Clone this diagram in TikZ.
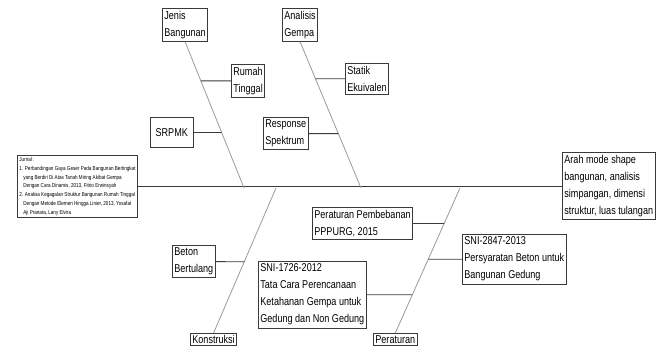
\documentclass[tikz,border=0pt]{standalone}
\usepackage{fontspec}
\setmainfont[FakeStretch=0.8]{Liberation Sans}
\usetikzlibrary{calc}
\definecolor{garis}{HTML}{3A3A3A}
\definecolor{tulang}{HTML}{9A9A9A}
\def\kecil{\fontsize{8.5}{12.75}\selectfont}
\def\mini{\fontsize{4.3}{6.6}\selectfont}

\begin{document}
\begin{tikzpicture}[x=0.75pt, y=-0.75pt,
		kotak/.style={draw=garis, line width=0.6pt, fill=white, align=left, anchor=north west,
			inner xsep=1.5pt, inner ysep=2pt, font=\kecil},
		tulangbesar/.style={draw=tulang, line width=0.6pt},
		cabang/.style={draw=garis, line width=0.6pt}]
				\useasboundingbox (0, 0) rectangle (667, 350);
				
				\node[kotak, font=\mini, inner ysep=1.5pt] (jurnal) at (17, 155) {Jurnal :\\
					1. Perbandingan Gaya Geser Pada Bangunan Bertingkat\\
					\hspace*{3pt}yang Berdiri Di Atas Tanah Miring Akibat Gempa\\
					\hspace*{3pt}Dengan Cara Dinamis, 2013, Fitrio Erwinsyah\\
					2. Analisa Kegagalan Struktur Bangunan Rumah Tinggal\\
					\hspace*{3pt}Dengan Metode Elemen Hingga Linier, 2013, Yosafat\\
					\hspace*{3pt}Aji Pranata, Lany Elvira};
				\node[kotak] (arah) at (562, 152) {Arah mode shape\\bangunan, analisis\\simpangan, dimensi\\struktur, luas tulangan};
				
				\node[kotak] (jenis) at (162, 8) {Jenis\\Bangunan};
				\node[kotak] (rumah) at (231, 64) {Rumah\\Tinggal};
				\node[kotak, align=center, minimum width=32pt, minimum height=22.5pt] (srpmk) at (150, 117) {SRPMK};
				
				\node[kotak] (analisis) at (282, 8) {Analisis\\Gempa};
				\node[kotak] (statik) at (345, 63) {Statik\\Ekuivalen};
				\node[kotak] (respons) at (263, 117) {Response\\Spektrum};
				
				\node[kotak, inner ysep=1.5pt] (konstruksi) at (190, 333) {Konstruksi};
				\node[kotak] (beton) at (172, 245) {Beton\\Bertulang};
				
				\node[kotak, inner ysep=1.5pt] (peraturan) at (373, 333) {Peraturan};
				\node[kotak] (pembebanan) at (312, 207) {Peraturan Pembebanan\\PPPURG, 2015};
				\node[kotak] (sni1726) at (258, 261) {SNI-1726-2012\\Tata Cara Perencanaan\\Ketahanan Gempa untuk\\Gedung dan Non Gedung};
				\node[kotak] (sni2847) at (462, 234) {SNI-2847-2013\\Persyaratan Beton untuk\\Bangunan Gedung};
				
				\coordinate (sj) at (244, 188);
				\coordinate (sa) at (361, 188);
				\coordinate (sk) at (276, 188);
				\coordinate (sp) at (460, 188);
				
				% tulang utama
				\draw[cabang] (jurnal.east) -- (jurnal.east -| arah.west);
				
				\draw[tulangbesar] (jenis.south) -- (sj);
				\draw[tulangbesar] (analisis.south) -- (sa);
				\draw[tulangbesar] (konstruksi.north) -- (sk);
				\draw[tulangbesar] (peraturan.north) -- (sp);
				
				% cabang
				\draw[cabang] (rumah.west) -- (intersection of jenis.south--sj and rumah.west--rumah.east);
				\draw[cabang] (srpmk.east) -- (intersection of jenis.south--sj and srpmk.west--srpmk.east);
				\draw[cabang] (statik.west) -- (intersection of analisis.south--sa and statik.west--statik.east);
				\draw[cabang] (respons.east) -- (intersection of analisis.south--sa and respons.west--respons.east);
				\draw[cabang] (beton.east) -- (intersection of konstruksi.north--sk and beton.west--beton.east);
				\draw[cabang] (pembebanan.east) -- (intersection of peraturan.north--sp and pembebanan.west--pembebanan.east);
				\draw[cabang] (sni1726.east) -- (intersection of peraturan.north--sp and sni1726.west--sni1726.east);
				\draw[cabang] (sni2847.west) -- (intersection of peraturan.north--sp and sni2847.west--sni2847.east);
			\end{tikzpicture}
\end{document}
